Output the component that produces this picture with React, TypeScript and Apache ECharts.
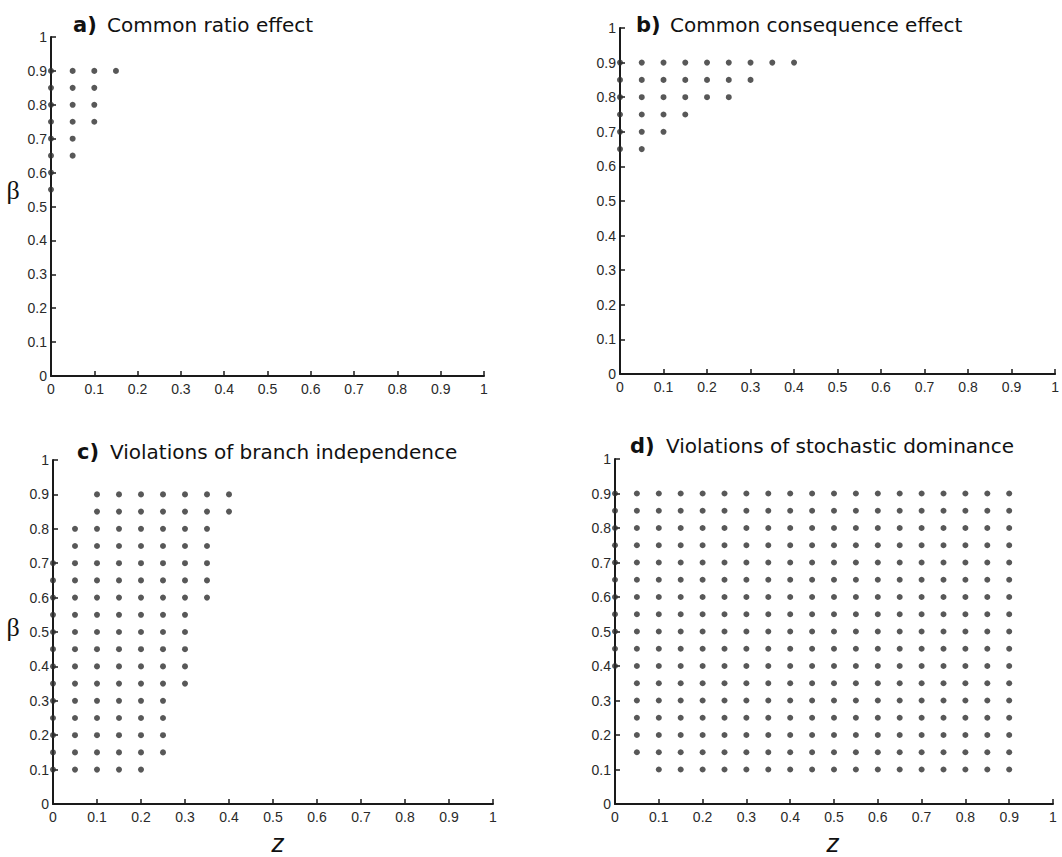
import React, { useEffect, useRef } from "react";
import * as echarts from "echarts";

// z positions of the grid columns (step 0.05)
const zColumns = [0, 0.05, 0.1, 0.15, 0.2, 0.25, 0.3, 0.35, 0.4, 0.45, 0.5, 0.55, 0.6, 0.65, 0.7, 0.75, 0.8, 0.85, 0.9];

// lowest / highest beta of the dots in each column, per panel
const commonRatioLow = [0.55, 0.65, 0.75, 0.9];
const commonRatioHigh = [0.9, 0.9, 0.9, 0.9];

const commonConsequenceLow = [0.65, 0.65, 0.7, 0.75, 0.8, 0.8, 0.85, 0.9, 0.9];
const commonConsequenceHigh = [0.9, 0.9, 0.9, 0.9, 0.9, 0.9, 0.9, 0.9, 0.9];

const branchLow = [0.1, 0.1, 0.1, 0.1, 0.1, 0.15, 0.35, 0.6, 0.85];
const branchHigh = [0.7, 0.8, 0.9, 0.9, 0.9, 0.9, 0.9, 0.9, 0.9];

const dominanceLow = [0.4, 0.15, 0.1, 0.1, 0.1, 0.1, 0.1, 0.1, 0.1, 0.1, 0.1, 0.1, 0.1, 0.1, 0.1, 0.1, 0.1, 0.1, 0.1];
const dominanceHigh = [0.9, 0.9, 0.9, 0.9, 0.9, 0.9, 0.9, 0.9, 0.9, 0.9, 0.9, 0.9, 0.9, 0.9, 0.9, 0.9, 0.9, 0.9, 0.9];

const tickLabels = ["0", "0.1", "0.2", "0.3", "0.4", "0.5", "0.6", "0.7", "0.8", "0.9", "1"];

const panelLetters = ["a)", "b)", "c)", "d)"];
const panelTitles = [
  "Common ratio effect",
  "Common consequence effect",
  "Violations of branch independence",
  "Violations of stochastic dominance",
];

function buildPoints(low: number[], high: number[]): number[][] {
  const pts: number[][] = [];
  for (let i = 0; i < low.length; i++) {
    const lo = Math.round(low[i] * 100);
    const hi = Math.round(high[i] * 100);
    for (let b = lo; b <= hi; b += 5) pts.push([zColumns[i], b / 100]);
  }
  return pts;
}

const grids = [
  { left: 51, top: 37, width: 433, height: 339 },
  { left: 620, top: 28, width: 437, height: 346 },
  { left: 53, top: 460, width: 440, height: 344 },
  { left: 615, top: 459, width: 438, height: 345 },
];

const titlePos = [
  { lx: 73, tx: 107, y: 25 },
  { lx: 636, tx: 670, y: 25 },
  { lx: 77, tx: 110, y: 452 },
  { lx: 630, tx: 666, y: 446 },
];

export default function App() {
  const ref = useRef<HTMLDivElement>(null);
  useEffect(() => {
    if (!ref.current) return;
    const chart = echarts.init(ref.current, undefined, { renderer: "svg" });
    const fmt = (v: number) => tickLabels[Math.round(v * 10)] ?? String(v);
    const axisCommon = {
      type: "value" as const,
      min: 0,
      max: 1,
      interval: 0.1,
      axisLine: { show: true, onZero: false, lineStyle: { color: "#1a1a1a", width: 2 } },
      axisTick: { show: true, inside: true, length: 5, lineStyle: { color: "#1a1a1a", width: 1.5 } },
      splitLine: { show: false },
      axisLabel: {
        fontSize: 14,
        fontFamily: "Liberation Sans",
        color: "#2a2a2a",
        formatter: fmt,
      },
    };
    const datasets = [
      buildPoints(commonRatioLow, commonRatioHigh),
      buildPoints(commonConsequenceLow, commonConsequenceHigh),
      buildPoints(branchLow, branchHigh),
      buildPoints(dominanceLow, dominanceHigh),
    ];
    const graphic: any[] = [];
    panelLetters.forEach((l, i) => {
      const p = titlePos[i];
      graphic.push({
        type: "text",
        x: p.lx,
        y: p.y,
        style: { text: l, fontFamily: "DejaVu Sans", fontWeight: "bold", fontSize: 21, fill: "#111", verticalAlign: "middle" },
      });
      graphic.push({
        type: "text",
        x: p.tx,
        y: p.y,
        style: { text: panelTitles[i], fontFamily: "DejaVu Sans", fontSize: 20, fill: "#111", verticalAlign: "middle" },
      });
    });
    [190, 627].forEach((y) => {
      graphic.push({
        type: "text",
        x: 13,
        y,
        style: { text: "β", fontFamily: "Liberation Serif", fontSize: 26, fill: "#111", align: "center", verticalAlign: "middle" },
      });
    });
    [278, 833].forEach((x) => {
      graphic.push({
        type: "text",
        x,
        y: 843,
        style: { text: "z", fontFamily: "Liberation Sans", fontStyle: "italic", fontSize: 26, fill: "#111", align: "center", verticalAlign: "middle" },
      });
    });
    chart.setOption({
      animation: false,
      backgroundColor: "#fff",
      grid: grids.map((g) => ({ ...g, containLabel: false })),
      xAxis: grids.map((_, i) => ({ ...axisCommon, gridIndex: i, axisLabel: { ...axisCommon.axisLabel, margin: 6 } })),
      yAxis: grids.map((_, i) => ({ ...axisCommon, gridIndex: i, axisLabel: { ...axisCommon.axisLabel, margin: 4 } })),
      series: datasets.map((d, i) => ({
        type: "scatter",
        xAxisIndex: i,
        yAxisIndex: i,
        data: d,
        symbol: "circle",
        symbolSize: 6,
        clip: false,
        itemStyle: { color: "#2e2e2e" },
        z: 5,
      })),
      graphic,
    });
    return () => chart.dispose();
  }, []);
  return (
    <div
      ref={ref}
      style={{ position: "absolute", left: 0, top: 0, width: 1062, height: 857, background: "#fff" }}
    />
  );
}
